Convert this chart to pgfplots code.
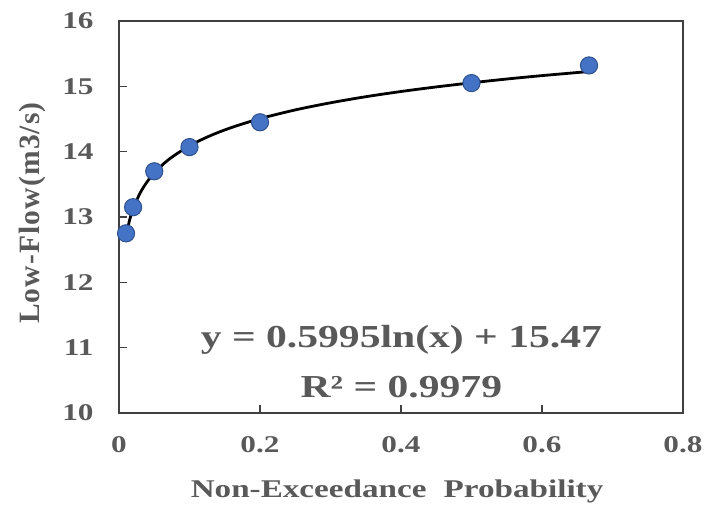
\documentclass[border=0pt]{standalone}
\usepackage{fontspec}
\usepackage{pgfplots}
\pgfplotsset{compat=1.18}
\newfontfamily\wide{Liberation Serif}[FakeStretch=1.3]
\newfontfamily\plain{Liberation Serif}[LetterSpace=4]
\definecolor{txtgray}{HTML}{595959}
\definecolor{axgray}{HTML}{404040}
\definecolor{ptfill}{HTML}{4472C4}
\definecolor{ptedge}{HTML}{2F528F}

\begin{document}
\begin{tikzpicture}
\begin{axis}[
  scale only axis,
  width=564pt, height=392pt,
  xmin=0, xmax=0.8, ymin=10, ymax=16,
  xtick={0,0.2,0.4,0.6,0.8},
  ytick={10,11,12,13,14,15,16},
  tick align=inside,
  xtick pos=bottom, ytick pos=left,
  major tick length=8pt,
  axis line style={axgray, line width=1.4pt},
  every tick/.style={axgray, line width=1.3pt},
  /pgf/number format/assume math mode=true,
  ticklabel style={font=\wide\bfseries\fontsize{24}{24}\selectfont, text=txtgray},
  yticklabel style={xshift=-22pt},
  xticklabel style={yshift=-20pt},
  xlabel={Non-Exceedance\hspace{0.35em} Probability},
  xlabel style={at={(axis description cs:0.493,0)}, anchor=base, yshift=-85pt,
    font=\wide\bfseries\fontsize{25.5}{25.5}\selectfont, text=txtgray},
  ylabel={Low-Flow(m3/s)},
  ylabel style={at={([xshift=-87pt]axis description cs:0,0.51)}, anchor=center,
    font=\plain\bfseries\fontsize{29.5}{29.5}\selectfont, text=txtgray},
  clip=false,
]
% trendline y = 0.5995 ln(x) + 15.47, values tabulated
\addplot[black, line width=2.8pt, smooth] coordinates {
  (0.01,12.709) (0.015,12.952) (0.02,13.125) (0.03,13.368) (0.04,13.540)
  (0.05,13.674) (0.07,13.876) (0.1,14.090) (0.13,14.247) (0.16,14.371)
  (0.2,14.505) (0.25,14.639) (0.3,14.748) (0.35,14.841) (0.4,14.921)
  (0.45,14.991) (0.5,15.054) (0.55,15.112) (0.6,15.164) (0.667,15.227)
};
% observed low flows
\addplot[only marks, mark=*, mark size=8.6pt,
  mark options={fill=ptfill, draw=ptedge, line width=1pt}] coordinates {
  (0.01,12.75) (0.02,13.15) (0.05,13.70) (0.1,14.07)
  (0.2,14.45) (0.5,15.05) (0.6667,15.32)
};
\node[anchor=base, text=txtgray, font=\wide\bfseries\fontsize{32}{32}\selectfont]
  at (axis cs:0.4006,11.01) {y = 0.5995ln(x) + 15.47};
\node[anchor=base, text=txtgray, font=\wide\bfseries\fontsize{32}{32}\selectfont]
  at (axis cs:0.4006,10.23) {R² = 0.9979};
\end{axis}
\pgfresetboundingbox
\path[use as bounding box] (-119pt,-98pt) rectangle (599pt,413pt);
\end{tikzpicture}
\end{document}
